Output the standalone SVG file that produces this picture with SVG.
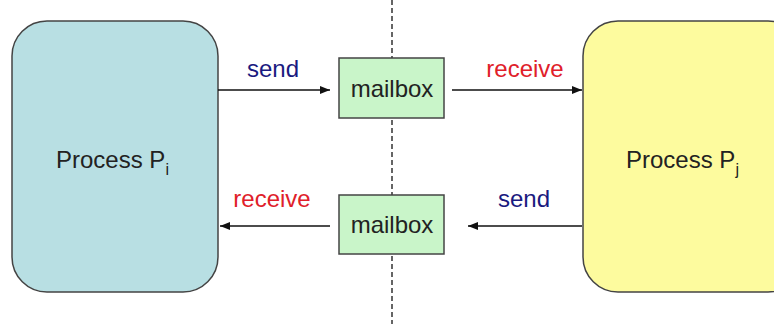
<svg xmlns="http://www.w3.org/2000/svg" width="774" height="324" viewBox="0 0 774 324">
<defs>
<marker id="ah" viewBox="0 0 10 10" refX="10" refY="5" markerWidth="10" markerHeight="10" markerUnits="userSpaceOnUse" orient="auto">
<path d="M0,1 L10,5 L0,9 z" fill="#111"/>
</marker>
</defs>
<style>
text{font-family:"Liberation Sans",Arial,sans-serif;font-size:24px;fill:#222}
.proc{stroke:#444;stroke-width:1.5}
.mb{fill:#c9f5c9;stroke:#444;stroke-width:1.5}
.c{stroke:#111;stroke-width:1.5;fill:none;marker-end:url(#ah)}
.send{fill:#1a1a80}
.recv{fill:#e0202a}
.sub{font-size:16px;fill:#222}
</style>
<line x1="392" y1="0" x2="392" y2="324" stroke="#333" stroke-width="1.5" stroke-dasharray="5,3"/>
<g id="pi">
<rect class="proc" x="12" y="21" width="206" height="271" rx="35" fill="#b8dfe3"/>
<text x="56" y="168">Process P<tspan class="sub" dy="7">i</tspan></text>
</g>
<g id="pj">
<rect class="proc" x="583" y="21" width="220" height="271" rx="35" fill="#fdfb9e"/>
<text x="626" y="168">Process P<tspan class="sub" dy="7">j</tspan></text>
</g>
<g id="mb1">
<rect class="mb" x="339" y="58" width="105" height="60"/>
<text x="392" y="97" text-anchor="middle">mailbox</text>
</g>
<g id="mb2">
<rect class="mb" x="339" y="195" width="105" height="59"/>
<text x="392" y="233" text-anchor="middle">mailbox</text>
</g>
<g id="connectors">
<line class="c" x1="218" y1="90" x2="330" y2="90"/>
<line class="c" x1="452" y1="90" x2="582" y2="90"/>
<line class="c" x1="582" y1="226" x2="468" y2="226"/>
<line class="c" x1="330" y1="226" x2="220" y2="226"/>
<text class="send" x="273" y="77" text-anchor="middle">send</text>
<text class="recv" x="525" y="77" text-anchor="middle">receive</text>
<text class="recv" x="272" y="207" text-anchor="middle">receive</text>
<text class="send" x="524" y="207" text-anchor="middle">send</text>
</g>
</svg>
